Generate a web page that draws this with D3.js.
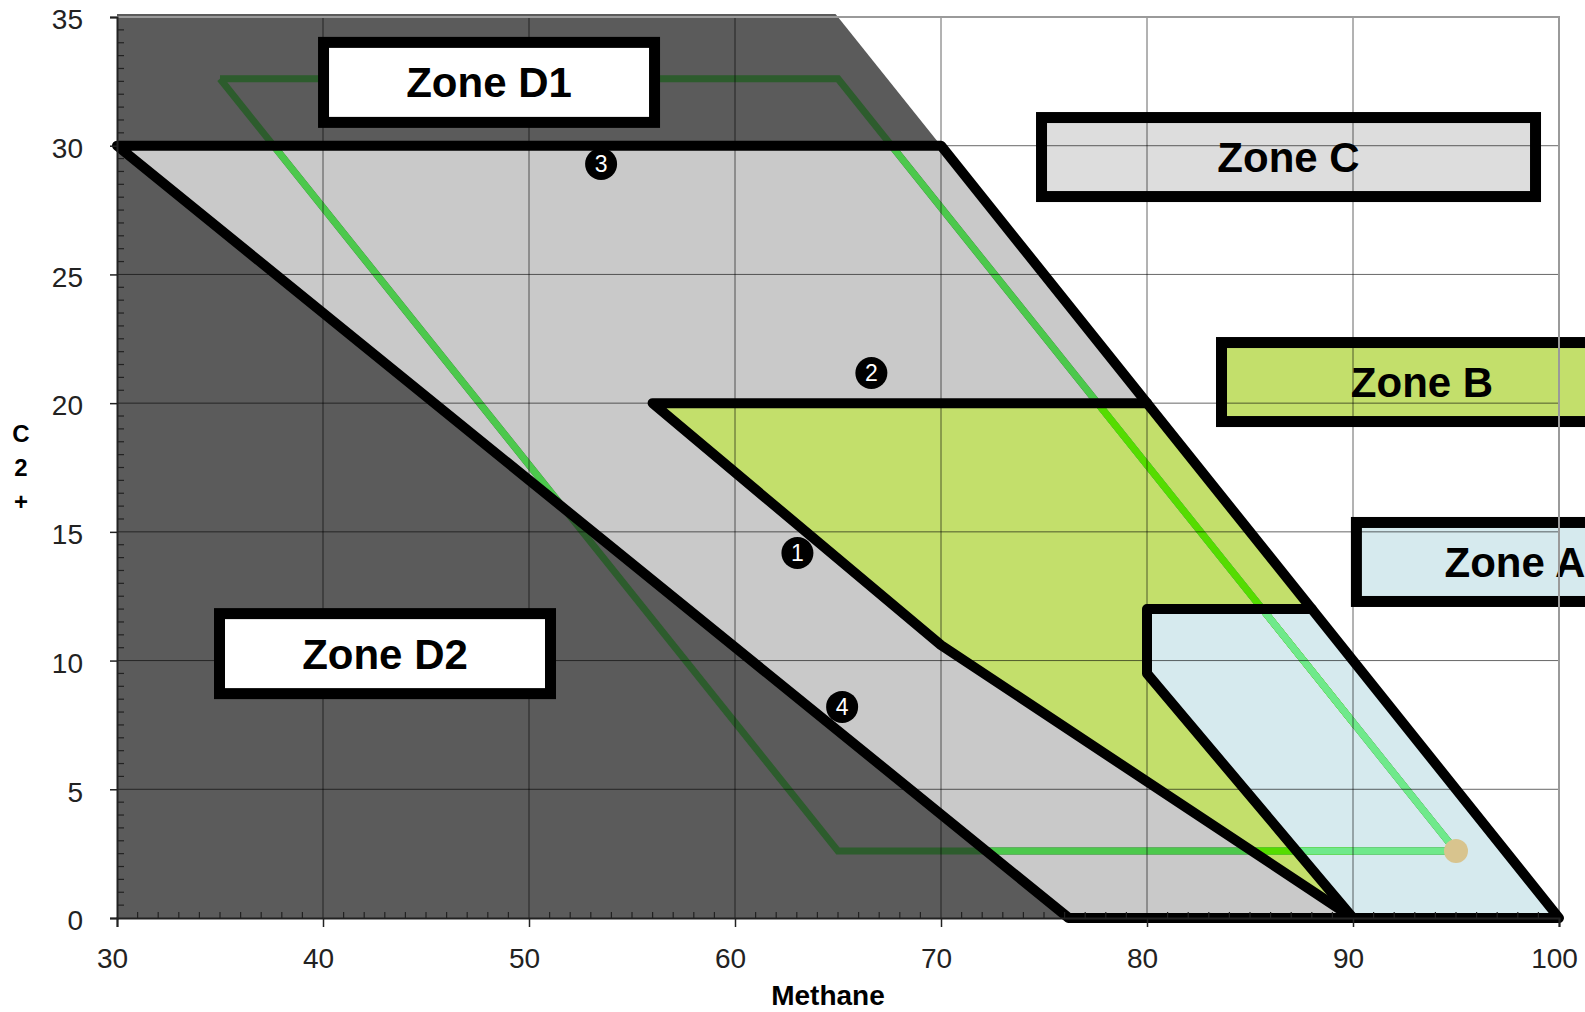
<!DOCTYPE html>
<html>
<head>
<meta charset="utf-8">
<script src="https://cdn.jsdelivr.net/npm/d3@7"></script>
<style>
  html, body { margin: 0; padding: 0; background: #fff; }
  svg { display: block; }
  text { font-family: "Liberation Sans", Arial, sans-serif; }
</style>
</head>
<body>
<svg id="chart" width="1585" height="1012"></svg>
<script>
// ---------- data (chart units: Methane %, C2+ %) ----------
const xTicks = [30, 40, 50, 60, 70, 80, 90, 100];
const yTicks = [0, 5, 10, 15, 20, 25, 30, 35];

const zoneDArea = [[30, 0], [30, 35.12], [64.88, 35.12], [100, 0]];
const zoneCArea = [[30, 30], [70, 30], [100, 0], [76.2, 0]];
const zoneBArea = [[56, 20], [80, 20], [90, 10], [90, 0], [70, 10.6]];
const zoneAArea = [[80, 12], [88, 12], [100, 0], [90, 0], [80, 9.5]];

const zoneCOutline = [[76.2, 0], [30, 30], [70, 30], [100, 0], [76.2, 0]];
const zoneBOutline = [[80, 20], [56, 20], [70, 10.6], [90, 0]];
const zoneAOutline = [[88, 12], [80, 12], [80, 9.5], [90, 0]];

const trajectory = [[35, 32.6], [65, 32.6], [95, 2.6], [65, 2.6], [35, 32.6]];
const trajectoryEnd = [95, 2.6];

const markerLabels = ["1", "2", "3", "4"];
const markerX = [63.03, 66.62, 53.5, 65.2];
const markerY = [14.18, 21.17, 29.29, 8.2];

const zoneNames = ["Zone D1", "Zone D2", "Zone C", "Zone B", "Zone A"];
const zoneLabelX = [48.06, 43.01, 86.87, 93.35, 97.86];
const zoneLabelY = [32.46, 10.27, 29.56, 20.82, 13.83];

const xTitle = "Methane";
const yTitle = ["C", "2", "+"];

// ---------- layout / scales ----------
const svg = d3.select("#chart");
const x = d3.scaleLinear().domain([30, 100]).range([117, 1559]);
const y = d3.scaleLinear().domain([0, 35]).range([918, 17]);
const line = d3.line().x(d => x(d[0])).y(d => y(d[1]));
const poly = pts => line(pts) + "Z";

const defs = svg.append("defs");
[["clipC", zoneCArea], ["clipB", zoneBArea], ["clipA", zoneAArea]].forEach(([id, pts]) => {
  defs.append("clipPath").attr("id", id).append("path").attr("d", poly(pts));
});

// zone fills
svg.append("path").attr("d", poly(zoneDArea)).attr("fill", "#5b5b5b");
svg.append("path").attr("d", poly(zoneCArea)).attr("fill", "#c9c9c9");
svg.append("path").attr("d", poly(zoneBArea)).attr("fill", "#c3df6b");
svg.append("path").attr("d", poly(zoneAArea)).attr("fill", "#d6eaee");

// zone label boxes C, B, A (under gridlines)
const boxSizes = [[331, 80], [331, 80], [494, 79], [401, 79], [317, 79]];
const boxFills = ["#ffffff", "#ffffff", "#dddddd", "#c3df6b", "#d6eaee"];

function drawBox(i) {
  const cx = x(zoneLabelX[i]), cy = y(zoneLabelY[i]);
  const [w, h] = boxSizes[i];
  const g = svg.append("g");
  g.append("rect").attr("x", cx - w / 2).attr("y", cy - h / 2)
    .attr("width", w).attr("height", h)
    .attr("fill", boxFills[i]).attr("stroke", "#000").attr("stroke-width", 11);
  g.append("text").attr("x", cx).attr("y", cy + 15)
    .attr("text-anchor", "middle").attr("font-size", 42).attr("font-weight", "bold")
    .attr("fill", "#000").text(zoneNames[i]);
}
[2, 3, 4].forEach(drawBox);

// trajectory (coloured per zone)
const trajD = line(trajectory);
svg.append("path").attr("d", trajD).attr("fill", "none")
  .attr("stroke", "#2d5c2d").attr("stroke-width", 7).attr("stroke-linejoin", "miter");
svg.append("path").attr("d", trajD).attr("fill", "none").attr("clip-path", "url(#clipC)")
  .attr("stroke", "#4cc84c").attr("stroke-width", 7);
svg.append("path").attr("d", trajD).attr("fill", "none").attr("clip-path", "url(#clipB)")
  .attr("stroke", "#55dc00").attr("stroke-width", 7);
svg.append("path").attr("d", trajD).attr("fill", "none").attr("clip-path", "url(#clipA)")
  .attr("stroke", "#6fe98b").attr("stroke-width", 7);
svg.append("circle").attr("cx", x(trajectoryEnd[0])).attr("cy", y(trajectoryEnd[1]))
  .attr("r", 12).attr("fill", "#d8c48e");

// gridlines
const grid = svg.append("g").attr("stroke", "#000").attr("stroke-opacity", 0.6).attr("stroke-width", 1);
xTicks.slice(1, -1).forEach(v => {
  grid.append("line").attr("x1", x(v)).attr("x2", x(v)).attr("y1", y(0)).attr("y2", y(35));
});
yTicks.slice(1, -1).forEach(v => {
  grid.append("line").attr("x1", x(30)).attr("x2", x(100)).attr("y1", y(v)).attr("y2", y(v));
});
// plot frame top/right
svg.append("path")
  .attr("d", `M${x(30)},${y(35)}H${x(100)}V${y(0)}`)
  .attr("fill", "none").attr("stroke", "#9a9a9a").attr("stroke-width", 2);

// black outlines
[zoneCOutline, zoneBOutline, zoneAOutline].forEach(pts => {
  svg.append("path").attr("d", line(pts)).attr("fill", "none")
    .attr("stroke", "#000").attr("stroke-width", 10)
    .attr("stroke-linejoin", "round").attr("stroke-linecap", "round");
});

// D1, D2 label boxes (on top)
[0, 1].forEach(drawBox);

// numbered markers
markerLabels.forEach((lab, i) => {
  const cx = x(markerX[i]), cy = y(markerY[i]);
  svg.append("circle").attr("cx", cx).attr("cy", cy).attr("r", 16).attr("fill", "#000");
  svg.append("text").attr("x", cx).attr("y", cy + 8).attr("text-anchor", "middle")
    .attr("font-size", 23).attr("fill", "#fff").text(lab);
});

// axes
const xAxis = d3.axisBottom(x).tickValues(xTicks).tickSize(9).tickFormat(d3.format("d"));
const gx = svg.append("g").attr("transform", `translate(0,${y(0)})`).call(xAxis);
gx.select(".domain").attr("stroke", "#222").attr("stroke-width", 2);
gx.selectAll(".tick line").attr("stroke", "#222").attr("stroke-width", 1.5);
gx.selectAll(".tick text").attr("font-size", 28).attr("fill", "#222")
  .attr("font-family", "Liberation Sans, Arial, sans-serif")
  .attr("y", 0).attr("dx", -5).attr("dy", 50);

const yAxis = d3.axisLeft(y).tickValues(yTicks).tickSize(7).tickFormat(d3.format("d"));
const gy = svg.append("g").attr("transform", `translate(${x(30)},0)`).call(yAxis);
gy.select(".domain").attr("stroke", "#222").attr("stroke-width", 2);
gy.selectAll(".tick line").attr("stroke", "#222").attr("stroke-width", 1.5);
gy.selectAll(".tick text").attr("font-size", 28).attr("fill", "#222")
  .attr("font-family", "Liberation Sans, Arial, sans-serif").attr("x", -34).attr("dy", "0.42em");

// minor ticks (inward)
const minorX = d3.range(31, 100, 1).filter(v => v % 10 !== 0);
const minorY = d3.range(0.5, 35, 0.5).filter(v => v % 5 !== 0);
const minor = svg.append("g").attr("stroke", "#222").attr("stroke-width", 1.2);
minorX.forEach(v => minor.append("line").attr("x1", x(v)).attr("x2", x(v)).attr("y1", y(0)).attr("y2", y(0) - 6));
minorY.forEach(v => minor.append("line").attr("x1", x(30)).attr("x2", x(30) + 7).attr("y1", y(v)).attr("y2", y(v)));

// axis titles
svg.append("text").attr("x", 828).attr("y", 1005).attr("text-anchor", "middle")
  .attr("font-size", 28).attr("font-weight", "bold").attr("fill", "#000").text(xTitle);
yTitle.forEach((ch, i) => {
  svg.append("text").attr("x", 21).attr("y", 442 + i * 34).attr("text-anchor", "middle")
    .attr("font-size", 24).attr("font-weight", "bold").attr("fill", "#000").text(ch);
});
</script>
</body>
</html>
